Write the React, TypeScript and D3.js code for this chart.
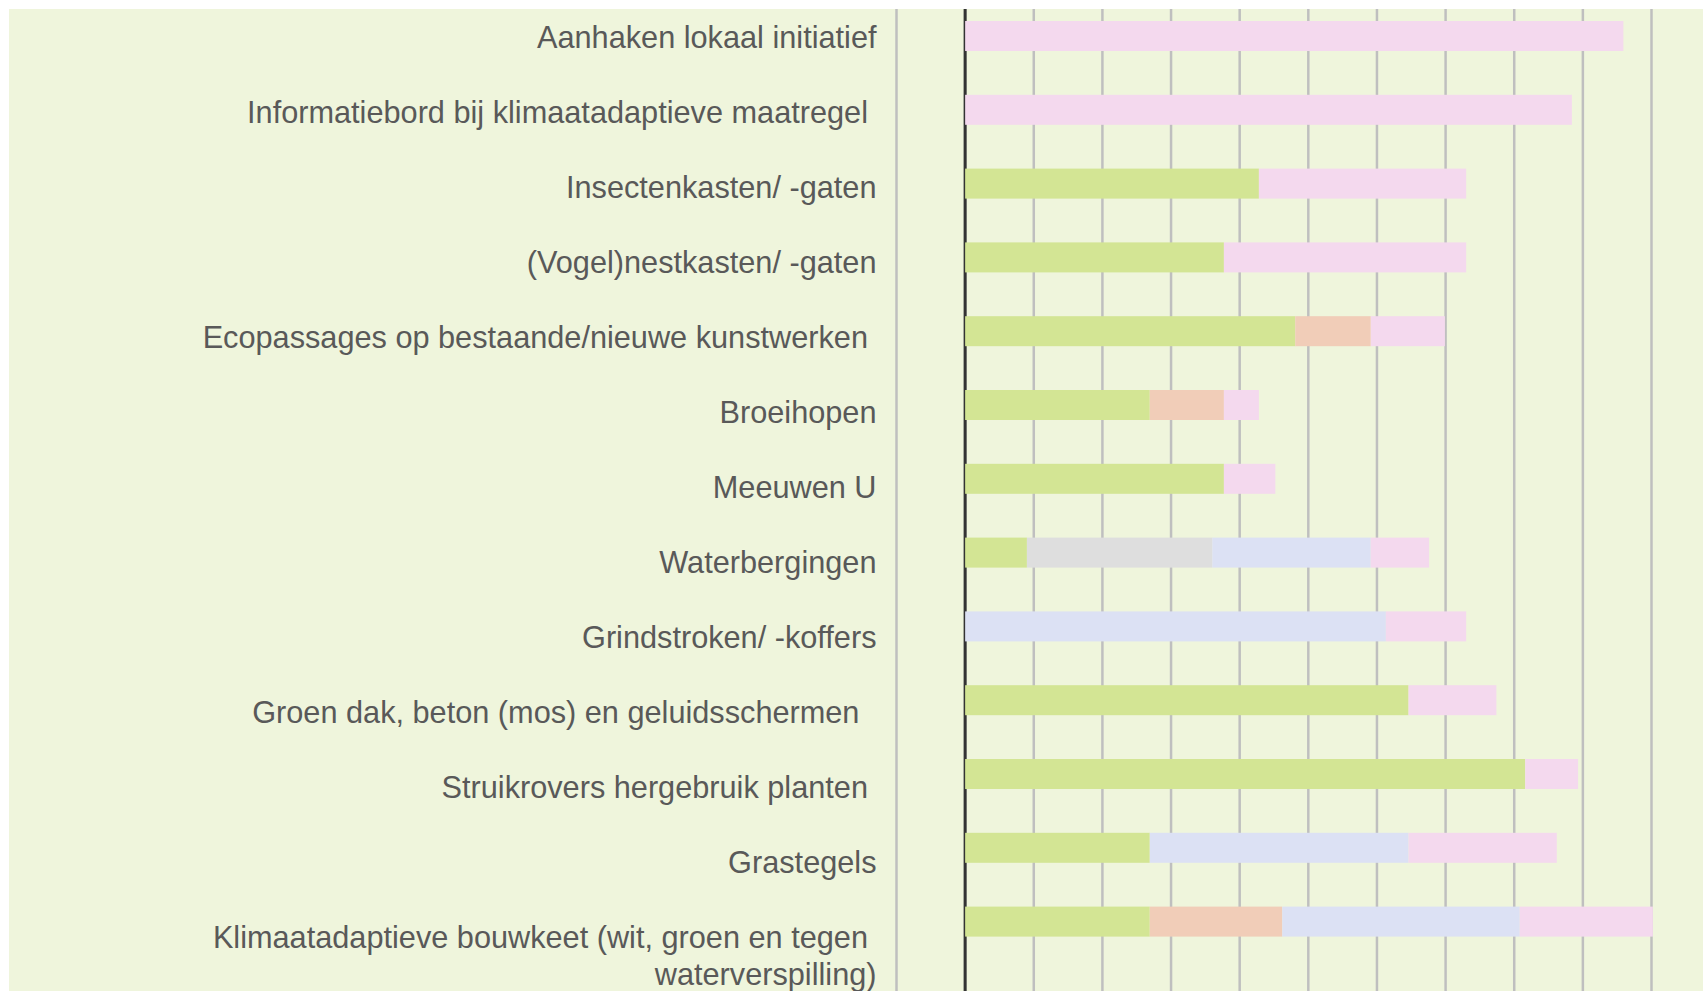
import * as d3 from 'd3'

// categories, top to bottom
const categories = [
  'Aanhaken lokaal initiatief',
  'Informatiebord bij klimaatadaptieve maatregel ',
  'Insectenkasten/ -gaten',
  '(Vogel)nestkasten/ -gaten',
  'Ecopassages op bestaande/nieuwe kunstwerken ',
  'Broeihopen',
  'Meeuwen U',
  'Waterbergingen',
  'Grindstroken/ -koffers',
  'Groen dak, beton (mos) en geluidsschermen  ',
  'Struikrovers hergebruik planten ',
  'Grastegels',
  'Klimaatadaptieve bouwkeet (wit, groen en tegen \nwaterverspilling)',
]

// stacked segments (in gridline units)
const green = [0, 0, 4.28, 3.77, 4.81, 2.69, 3.77, 0.9, 0, 6.46, 8.16, 2.69, 2.69]
const peach = [0, 0, 0, 0, 1.1, 1.08, 0, 0, 0, 0, 0, 0, 1.93]
const grey = [0, 0, 0, 0, 0, 0, 0, 2.7, 0, 0, 0, 0, 0]
const blue = [0, 0, 0, 0, 0, 0, 0, 2.31, 6.13, 0, 0, 3.77, 3.46]
const pink = [9.59, 8.84, 3.02, 3.53, 1.08, 0.51, 0.75, 0.85, 1.17, 1.28, 0.77, 2.16, 1.94]

const keys = ['green', 'peach', 'grey', 'blue', 'pink']
const colors = {
  green: '#d3e594',
  peach: '#f1cdb8',
  grey: '#dedede',
  blue: '#dce1f4',
  pink: '#f4d9ee',
}

const width = 1703
const height = 991
const off = 8

export default function App() {
  const rows = categories.map((c, i) => ({
    cat: c,
    green: green[i],
    peach: peach[i],
    grey: grey[i],
    blue: blue[i],
    pink: pink[i],
  }))

  const series = d3.stack().keys(keys)(rows as any)

  const x = d3.scaleLinear().domain([-1, 10]).range([888.5, 1643.5])

  const step = 73.8
  const y = d3
    .scaleBand()
    .domain(categories)
    .range([28 - step / 2, 28 - step / 2 + step * categories.length])
    .paddingInner(1 - 30 / step)
    .paddingOuter((1 - 30 / step) / 2)

  // labels drift a little from the bars in the original
  const yLabel = d3
    .scalePoint()
    .domain(categories)
    .range([29, 29 + 75.05 * (categories.length - 1)])

  return (
    <>
      <style>{'html,body{overflow:hidden;margin:0}'}</style>
      <svg width={width} height={height} style={{ display: 'block' }}>
        <rect width={width} height={height} fill="#fff" />
        <g transform={`translate(${off},${off})`}>
          <rect x={1} y={1} width={width} height={height} fill="#eff5dc" />

          {x.ticks(11).map(t => (
            <line
              key={t}
              x1={x(t)}
              x2={x(t)}
              y1={1}
              y2={height}
              stroke="#bfbfbf"
              strokeWidth={2.5}
            />
          ))}

          <line x1={x(0)} x2={x(0)} y1={1} y2={height} stroke="#333" strokeWidth={3} />

          {series.map(s => (
            <g key={s.key} fill={colors[s.key]}>
              {s.map((d, i) =>
                d[1] - d[0] > 0 ? (
                  <rect
                    key={i}
                    x={x(d[0])}
                    y={y(categories[i])}
                    width={x(d[1]) - x(d[0])}
                    height={y.bandwidth()}
                  />
                ) : null
              )}
            </g>
          ))}

          <g
            fontFamily="'Liberation Sans', Arial, sans-serif"
            fontSize={30.7}
            fill="#595959"
            textAnchor="end"
          >
            {categories.map(c => (
              <text key={c} x={868.5} y={yLabel(c)} style={{ whiteSpace: 'pre' }}>
                {c.split('\n').map((line, j) => (
                  <tspan key={j} x={868.5} dy={j === 0 ? '0.35em' : 37}>
                    {line}
                  </tspan>
                ))}
              </text>
            ))}
          </g>
        </g>
      </svg>
    </>
  )
}
